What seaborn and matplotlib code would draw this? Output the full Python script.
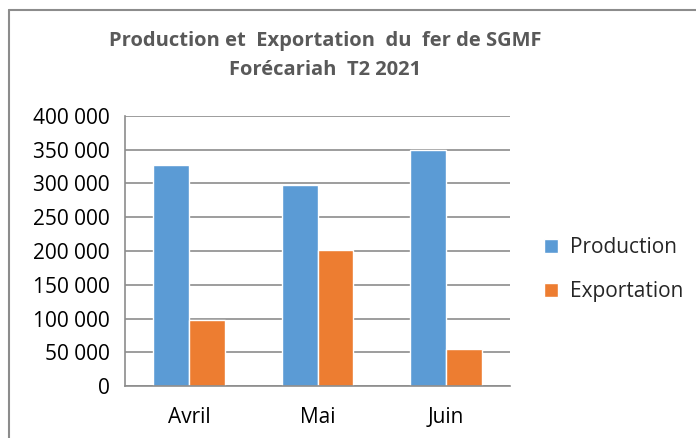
import numpy as np
import pandas as pd
import matplotlib
matplotlib.use('Agg')
import matplotlib.pyplot as plt
import seaborn as sns
from matplotlib.lines import Line2D
from matplotlib.ticker import FuncFormatter

# ---------------- data ----------------
months = ['Avril', 'Mai', 'Juin']
production = [328000, 298500, 350000]
exportation = [98500, 202000, 55000]
series_names = ['Production', 'Exportation']
title = 'Production et  Exportation  du  fer de SGMF\nForécariah  T2 2021'

df = pd.DataFrame({
    'mois': months * 2,
    'valeur': production + exportation,
    'serie': [series_names[0]] * 3 + [series_names[1]] * 3,
})

sns.set_style('white')
plt.rcParams['font.family'] = ['Open Sans', 'DejaVu Sans']

fig = plt.figure(figsize=(6.96, 4.38), dpi=100)
ax = fig.add_axes([0.1796, 0.1187, 0.5532, 0.6165])

sns.barplot(data=df, x='mois', y='valeur', hue='serie', order=months,
            hue_order=series_names, palette=['#5B9BD5', '#ED7D31'],
            width=0.56, saturation=1, ax=ax, legend=True)

ax.set_ylim(0, 400000)
ax.set_xlim(-0.5, 2.5)
ax.set_yticks(np.arange(0, 400001, 50000))
ax.yaxis.set_major_formatter(FuncFormatter(lambda v, p: f'{int(v):,}'.replace(',', ' ') if v else '0'))
ax.grid(axis='y', color='#8c8c8c', linewidth=1.2)
ax.set_axisbelow(True)
ax.set_xlabel('')
ax.set_ylabel('')
ax.tick_params(axis='both', labelsize=15, colors='black', length=0)
ax.tick_params(axis='y', pad=11)
ax.tick_params(axis='x', pad=15)
for side in ['top', 'right']:
    ax.spines[side].set_visible(False)
for side in ['left', 'bottom']:
    ax.spines[side].set_color('#8c8c8c')
    ax.spines[side].set_linewidth(1.2)

leg = ax.legend(loc='center left', bbox_to_anchor=(1.04, 0.43), frameon=False,
                fontsize=15, handlelength=0.65, handleheight=0.65,
                handletextpad=0.6, labelspacing=1.1)

fig.text(0.467, 0.873, title, ha='center', va='center', fontsize=14.5,
         fontweight='bold', color='#595959', linespacing=1.6)

# chart frame (only top and left edges visible)
fig.add_artist(Line2D([8.5 / 696, 8.5 / 696], [0, 1 - 9.5 / 438],
                      transform=fig.transFigure, color='#8c8c8c', linewidth=1.5))
fig.add_artist(Line2D([8.5 / 696, 1], [1 - 9.5 / 438, 1 - 9.5 / 438],
                      transform=fig.transFigure, color='#8c8c8c', linewidth=1.5))

fig.savefig('out.png', dpi=100)
